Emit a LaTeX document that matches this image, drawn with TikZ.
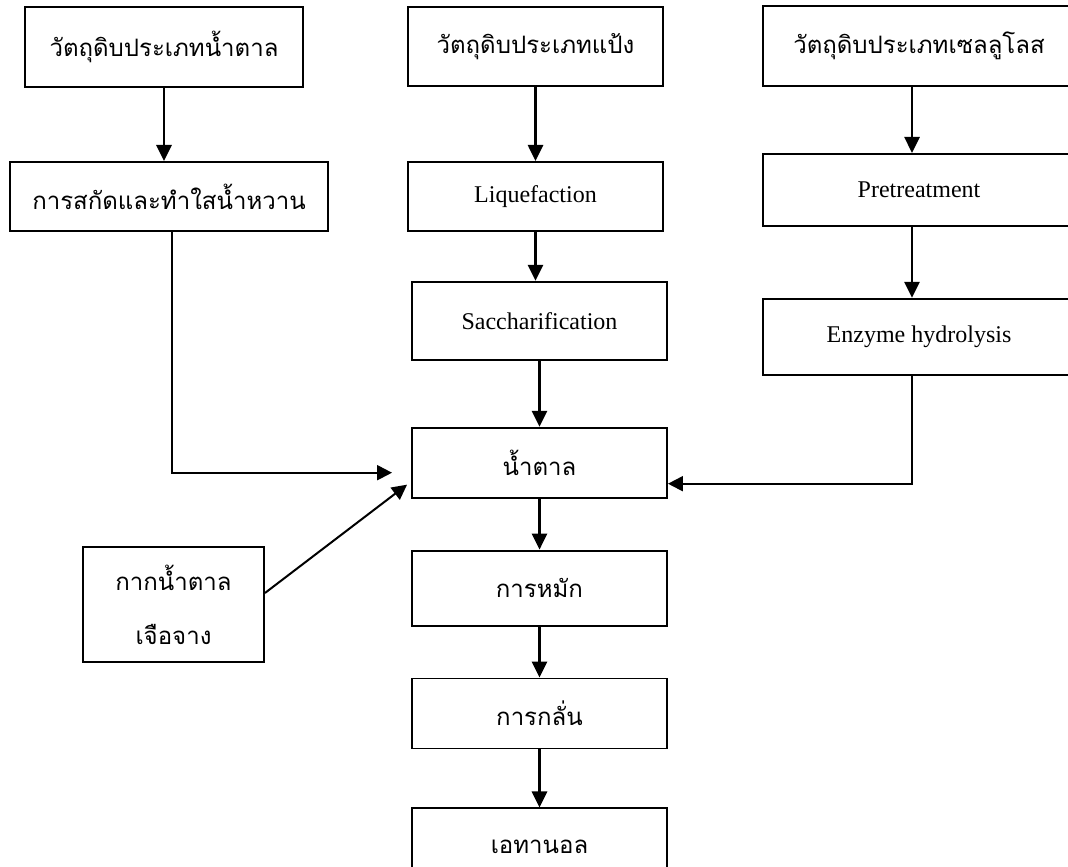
\documentclass[tikz,border=0pt]{standalone}
\usepackage{fontspec}
\setmainfont{Liberation Serif}
\newfontfamily\thaifont[Script=Thai]{Loma}
\usetikzlibrary{
	arrows.meta,
	positioning,
	calc
}

\begin{document}
\begin{tikzpicture}[
		x=1pt, y=-1pt,
		node distance = 60pt and 60pt,
		every node/.style={
			draw,
			rectangle,
			line width=1.9pt,
			minimum width=255pt,
			inner sep=0pt,
			align=center,
			font=\fontsize{24}{29}\selectfont
		},
		thai/.style={font=\thaifont\fontsize{24}{29}\selectfont},
		flow/.style={
			draw,
			line width=2.8pt,
			-{Triangle[length=16pt,width=15pt]}},
		link/.style={
			draw,
			line width=2pt,
			-{Triangle[length=15pt,width=15pt]}}
		]
		
		\useasboundingbox (0,0) rectangle (1068,867);
		
		\node[thai, minimum width=278pt, minimum height=80pt] (raw1) at (164,47) {วัตถุดิบประเภทน้ำตาล};
		\node[thai, below = 73pt of raw1, xshift=5pt, minimum width=318pt, minimum height=69pt] (ext) {การสกัดและทำใสน้ำหวาน};
		
		\node[thai, minimum height=79pt] (starch) at (535.5,46.5) {วัตถุดิบประเภทแป้ง};
		\node[below = 74pt of starch, minimum height=69pt] (liq) {Liquefaction};
		\node[below = 49pt of liq, xshift=4pt, minimum height=78pt] (sac) {Saccharification};
		\node[thai, below = 66pt of sac, minimum height=70pt] (sugar) {น้ำตาล};
		\node[thai, below = 51pt of sugar, minimum height=75pt] (ferm) {การหมัก};
		\node[thai, below = 51pt of ferm, minimum height=70pt] (dist) {การกลั่น};
		\node[thai, below = 58pt of dist, minimum height=76pt] (eth) {เอทานอล};
		
		\node[thai, minimum width=312pt, minimum height=80pt] (raw3) at (919,46) {วัตถุดิบประเภทเซลลูโลส};
		\node[below = 66pt of raw3, minimum width=312pt, minimum height=72pt] (pre) {Pretreatment};
		\node[below = 71pt of pre, minimum width=312pt, minimum height=76pt] (hyd) {Enzyme hydrolysis};
		
		\node[thai, font=\thaifont\fontsize{24}{54}\selectfont, minimum width=181pt, minimum height=115pt] (mol) at (173.5,604.5) {กากน้ำตาล\\เจือจาง};
		
		\draw[flow] (raw1.south) -- (raw1.south |- ext.north);
		\draw[flow] (starch) -- (liq);
		\draw[flow] (liq.south) -- (liq.south |- sac.north);
		\draw[flow] (sac) -- (sugar);
		\draw[flow] (sugar) -- (ferm);
		\draw[flow] (ferm) -- (dist);
		\draw[flow] (dist) -- (eth);
		\draw[flow] ([xshift=-7pt]raw3.south) -- ([xshift=-7pt]pre.north);
		\draw[flow] ([xshift=-7pt]pre.south) -- ([xshift=-7pt]hyd.north);
		
		\draw[link] ([xshift=3pt]ext.south) |- ([xshift=-19pt,yshift=-10pt]sugar.west);
		\draw[link] ([xshift=-7pt]hyd.south) |- ([yshift=-21pt]sugar.east);
		\draw[link] ([yshift=11.5pt]mol.east) -- ([xshift=-4pt,yshift=14pt]sugar.south west);
	\end{tikzpicture}
\end{document}
